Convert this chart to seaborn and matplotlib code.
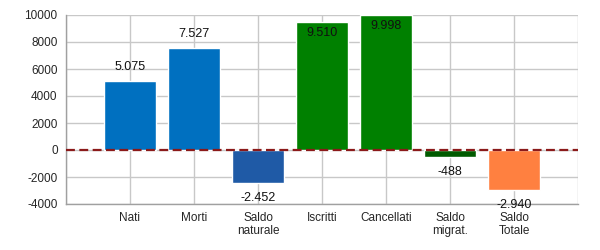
import matplotlib
matplotlib.use("Agg")
import matplotlib.pyplot as plt
import seaborn as sns
import pandas as pd

categories = ["Nati", "Morti", "Saldo\nnaturale", "Iscritti", "Cancellati", "Saldo\nmigrat.", "Saldo\nTotale"]
values = [5075, 7527, -2452, 9510, 9998, -488, -2940]
value_labels = ["5.075", "7.527", "-2.452", "9.510", "9.998", "-488", "-2.940"]
colors = ["#0070C0", "#0070C0", "#1F5AA6", "#008000", "#008000", "#005A00", "#FF8040"]
y_ticks = [-4000, -2000, 0, 2000, 4000, 6000, 8000, 10000]

sns.set_style("white")
plt.rcParams['font.family'] = ['Liberation Sans', 'DejaVu Sans']

df = pd.DataFrame({"cat": categories, "val": values})

fig = plt.figure(figsize=(6, 2.5), dpi=100)
ax = fig.add_axes([66/600, 46/250, 512/600, 189/250])

sns.barplot(data=df, x="cat", y="val", hue="cat", palette=colors, legend=False,
            width=0.8, saturation=1, ax=ax, zorder=3)

ax.set_xlim(-1, 7)
ax.set_ylim(-4000, 10000)
ax.set_xticks(range(-1, 8))
ax.set_xticklabels([""] + categories + [""], fontsize=8.5, linespacing=1.1)
ax.set_yticks(y_ticks)
ax.set_yticklabels([str(t) for t in y_ticks], fontsize=8.5)
ax.set_xlabel("")
ax.set_ylabel("")

ax.grid(True, color="#C8C8C8", linewidth=1, zorder=0)
ax.set_axisbelow(True)
for s in ["top", "right"]:
    ax.spines[s].set_visible(False)
for s in ["left", "bottom"]:
    ax.spines[s].set_color("#A0A0A0")
    ax.spines[s].set_linewidth(1)
ax.tick_params(axis="both", direction="out", length=4, width=1, color="#202020", pad=2)
ax.tick_params(axis="x", length=4)

ax.axhline(0, color="#8B1A1A", linestyle=(0, (4, 2)), linewidth=1.6, zorder=4)

for i, (v, lab) in enumerate(zip(values, value_labels)):
    if v >= 0:
        if v + 1500 > 10000:
            off = -11
        else:
            off = 14
    else:
        off = -15
    ax.annotate(lab, xy=(i, v), xytext=(0, off), textcoords="offset pixels",
                ha="center", va="center", fontsize=9, color="#111111", zorder=5)

fig.savefig("out.png", dpi=100)
